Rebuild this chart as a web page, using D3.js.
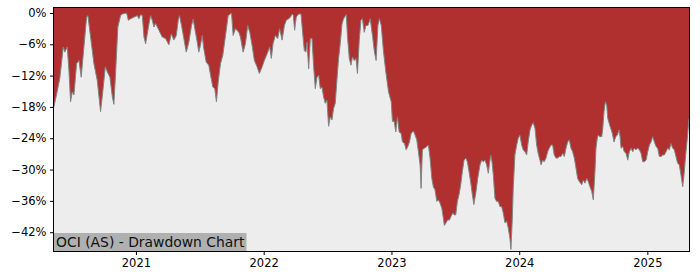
<!DOCTYPE html>
<html><head><meta charset="utf-8">
<script src="https://cdn.jsdelivr.net/npm/d3@7"></script>
<style>html,body{margin:0;padding:0;background:#fff;}svg{display:block;}</style>
</head><body>
<svg id="chart" width="700" height="280"></svg>
<script>
// Decimal years of each observation
const years = [2020.359,2020.380,2020.406,2020.433,2020.445,2020.464,2020.477,2020.490,2020.503,2020.516,2020.537,2020.555,2020.573,2020.594,2020.615,2020.625,2020.646,2020.672,2020.698,2020.724,2020.740,2020.761,2020.777,2020.797,2020.816,2020.828,2020.841,2020.859,2020.880,2020.894,2020.927,2020.941,2020.959,2020.984,
2021.011,2021.023,2021.037,2021.050,2021.063,2021.076,2021.102,2021.115,2021.128,2021.141,2021.154,2021.180,2021.206,2021.232,2021.258,2021.277,2021.297,2021.316,2021.331,2021.341,2021.357,2021.375,2021.394,2021.414,2021.435,2021.448,2021.461,2021.480,2021.492,2021.505,2021.519,2021.531,2021.550,2021.570,2021.584,2021.602,2021.617,2021.630,2021.644,2021.662,2021.680,2021.701,2021.722,2021.740,2021.748,2021.761,2021.779,2021.805,2021.818,2021.839,2021.857,2021.875,2021.891,2021.909,2021.927,2021.948,2021.966,2021.988,
2022.005,2022.027,2022.047,2022.060,2022.073,2022.091,2022.109,2022.125,2022.144,2022.162,2022.177,2022.195,2022.209,2022.222,2022.232,2022.242,2022.255,2022.273,2022.292,2022.308,2022.318,2022.330,2022.339,2022.352,2022.365,2022.378,2022.391,2022.404,2022.417,2022.430,2022.443,2022.456,2022.469,2022.482,2022.495,2022.508,2022.521,2022.534,2022.547,2022.560,2022.573,2022.586,2022.599,2022.613,2022.625,2022.646,2022.656,2022.670,2022.683,2022.695,2022.709,2022.722,2022.734,2022.748,2022.761,2022.773,2022.787,2022.800,2022.816,2022.834,2022.852,2022.867,2022.880,2022.894,2022.906,2022.920,2022.938,2022.956,2022.977,2022.998,
2023.008,2023.021,2023.034,2023.047,2023.060,2023.076,2023.086,2023.102,2023.115,2023.128,2023.141,2023.154,2023.172,2023.185,2023.198,2023.211,2023.224,2023.232,2023.242,2023.258,2023.277,2023.289,2023.302,2023.316,2023.328,2023.341,2023.355,2023.367,2023.380,2023.394,2023.406,2023.414,2023.427,2023.441,2023.453,2023.466,2023.480,2023.492,2023.503,2023.516,2023.529,2023.542,2023.555,2023.568,2023.581,2023.594,2023.607,2023.620,2023.633,2023.645,2023.662,2023.675,2023.693,2023.706,2023.719,2023.732,2023.745,2023.758,2023.766,2023.777,2023.787,2023.797,2023.810,2023.823,2023.836,2023.849,2023.862,2023.875,2023.888,2023.902,2023.914,2023.927,2023.935,2023.945,2023.953,2023.966,2023.980,2023.992,
2024.005,2024.019,2024.031,2024.045,2024.058,2024.070,2024.084,2024.097,2024.109,2024.123,2024.136,2024.148,2024.162,2024.170,2024.183,2024.195,2024.209,2024.222,2024.234,2024.248,2024.261,2024.273,2024.287,2024.300,2024.313,2024.326,2024.339,2024.352,2024.365,2024.378,2024.391,2024.404,2024.417,2024.430,2024.443,2024.456,2024.469,2024.488,2024.500,2024.513,2024.527,2024.539,2024.552,2024.566,2024.578,2024.591,2024.599,2024.609,2024.617,2024.630,2024.644,2024.652,2024.662,2024.672,2024.683,2024.691,2024.703,2024.714,2024.727,2024.740,2024.753,2024.766,2024.779,2024.787,2024.795,2024.808,2024.820,2024.834,2024.847,2024.859,2024.873,2024.886,2024.898,2024.911,2024.925,2024.938,2024.951,2024.964,2024.977,2024.990,
2025.003,2025.016,2025.029,2025.042,2025.055,2025.068,2025.081,2025.094,2025.107,2025.120,2025.133,2025.146,2025.159,2025.172,2025.185,2025.198,2025.211,2025.224,2025.237,2025.250,2025.263,2025.277,2025.287,2025.300,2025.313,2025.326];

// Drawdown in percent
const drawdown = [-18.0,-15.7,-12.5,-6.5,-7.5,-6.5,-11.0,-17.0,-15.1,-15.7,-9.7,-9.1,-12.3,-6.5,-0.8,-0.5,-4.6,-9.7,-12.9,-18.9,-15.4,-10.3,-11.3,-12.3,-16.1,-17.5,-11.6,-2.7,-0.5,-0.2,0,-1.4,-1.1,-0.8,
-0.5,-1.1,-0.3,-0.5,-4.6,-5.9,-2.1,-0.5,-1.4,-2.7,-2.0,-3.3,-4.6,-4.9,-6.1,-4.0,-5.2,-4.3,-1.4,-0.5,-2.4,-4.9,-7.5,-5.6,-2.4,-1.2,-3.0,-5.6,-7.5,-6.2,-4.3,-6.8,-9.4,-10.0,-11.9,-14.2,-14.5,-17.0,-13.2,-9.7,-8.1,-4.3,-0.5,-0.2,0,-4.3,-3.0,-3.7,-4.6,-7.5,-5.9,-2.4,-3.7,-6.2,-9.1,-10.3,-11.6,-10.3,
-9.1,-7.8,-6.5,-8.7,-5.9,-4.3,-4.9,-3.0,-5.2,-2.4,-1.4,-1.1,-0.8,-0.2,-0.5,-3.3,-0.8,-0.2,-0.2,-4.6,-7.2,-7.5,-5.6,-10.7,-4.9,-4.9,-10.3,-14.5,-12.3,-11.9,-14.5,-14.2,-16.1,-17.3,-16.7,-21.7,-19.9,-20.5,-18.3,-17.3,-12.9,-8.7,-5.9,-2.1,-1.1,-0.3,-4.6,-8.7,-10.0,-8.4,-9.1,-8.7,-11.6,-5.2,-1.4,-1.1,-3.7,-2.4,-2.4,-1.1,-4.5,-7.5,-9.1,-2.4,-1.1,-2.4,-7.5,-11.3,-15.1,-17.0,
-20.8,-20.7,-22.8,-19.9,-22.8,-23.1,-24.7,-25.0,-26.2,-25.6,-24.7,-23.1,-22.6,-23.4,-24.3,-26.6,-29.1,-33.6,-26.2,-25.9,-25.6,-25.3,-27.8,-31.7,-33.3,-33.9,-36.1,-35.8,-36.4,-37.4,-39.3,-40.7,-40.2,-39.6,-39.7,-39.0,-38.3,-38.7,-38.7,-36.1,-34.8,-32.9,-30.4,-28.2,-27.8,-28.5,-30.4,-32.4,-34.8,-36.7,-34.2,-31.7,-29.1,-28.2,-28.5,-28.2,-29.1,-30.7,-29.1,-27.2,-28.5,-31.0,-35.5,-36.1,-36.1,-37.1,-37.1,-38.3,-40.2,-39.9,-41.2,-43.1,-45.3,-39.9,-33.6,-27.2,-25.3,-24.0,
-23.4,-25.3,-26.2,-26.6,-27.2,-24.7,-22.4,-21.5,-21.0,-22.1,-25.3,-26.9,-28.2,-29.1,-28.2,-28.5,-27.8,-26.6,-25.9,-25.3,-25.3,-27.2,-27.8,-27.8,-27.5,-27.5,-26.9,-27.5,-25.9,-24.7,-24.3,-25.9,-26.6,-27.8,-29.7,-31.7,-32.3,-32.9,-32.0,-32.6,-31.7,-32.3,-33.3,-34.2,-35.8,-30.4,-25.9,-24.0,-23.4,-23.7,-23.7,-22.1,-18.9,-17.0,-17.7,-20.2,-21.2,-22.1,-23.1,-24.7,-23.7,-23.4,-22.4,-23.7,-25.9,-25.6,-26.6,-26.9,-28.2,-26.6,-25.9,-26.6,-25.9,-26.2,-25.9,-26.2,-26.9,-28.5,-28.5,-28.2,
-26.6,-25.3,-24.7,-23.7,-24.7,-25.6,-25.9,-27.5,-27.5,-27.2,-27.2,-26.6,-25.9,-26.2,-25.0,-25.9,-26.2,-27.5,-28.8,-29.1,-31.0,-33.3,-31.0,-27.2,-24.0,-20.2];

const yTicks = [0,-6,-12,-18,-24,-30,-36,-42];
const xTickYears = [2021,2022,2023,2024,2025];
const title = "OCI (AS) - Drawdown Chart";

function toDate(y){
  const yr = Math.floor(y);
  const a = Date.UTC(yr,0,1), b = Date.UTC(yr+1,0,1);
  return new Date(a + (y-yr)*(b-a));
}
const data = years.map((y,i)=>({date:toDate(y), v:drawdown[i]}));

const L=53.5, R=689.5, T=7.5, B=251.5;
const svg = d3.select("#chart");
const x = d3.scaleUtc().domain(d3.extent(data,d=>d.date)).range([L+0.3,R-0.5]);
const y = d3.scaleLinear().domain([-45.7,1.05]).range([B,T]);

svg.append("defs").append("clipPath").attr("id","clip")
  .append("rect").attr("x",L).attr("y",T).attr("width",R-L).attr("height",B-T);

svg.append("rect").attr("x",L).attr("y",T).attr("width",R-L).attr("height",B-T).attr("fill","#ededed");

const g = svg.append("g").attr("clip-path","url(#clip)");
g.append("path").datum(data)
  .attr("fill","#b03030")
  .attr("d", d3.area().x(d=>x(d.date)).y0(T).y1(d=>y(d.v)));
g.append("path").datum(data)
  .attr("fill","none").attr("stroke","#7f8585").attr("stroke-width",1)
  .attr("d", d3.line().x(d=>x(d.date)).y(d=>y(d.v)));

// title box
const tg = svg.append("g");
tg.append("rect").attr("x",L).attr("y",233).attr("width",193).attr("height",B-233).attr("fill","#b0b0b0");
tg.append("text").attr("x",56).attr("y",246.5).attr("font-family","DejaVu Sans").attr("font-size","13.9px")
  .attr("fill","#111").text(title);

// axes
const fmtPct = v => (v<0?"\u2212":"")+Math.abs(v)+"%";
const yAxis = d3.axisLeft(y).tickValues(yTicks).tickFormat(fmtPct).tickSize(3.5).tickPadding(3.5);
const xAxis = d3.axisBottom(x).tickValues(xTickYears.map(v=>new Date(Date.UTC(v,0,1)))).tickFormat(d3.utcFormat("%Y")).tickSize(3.5).tickPadding(3.5);

const ya = svg.append("g").attr("transform",`translate(${L},0)`).call(yAxis);
const xa = svg.append("g").attr("transform",`translate(0,${B})`).call(xAxis);
[ya,xa].forEach(a=>{
  a.select(".domain").remove();
  a.selectAll("text").attr("font-family","DejaVu Sans").attr("font-size","11.5px").attr("fill","#000");
  a.selectAll("line").attr("stroke","#000");
});

svg.append("rect").attr("x",L).attr("y",T).attr("width",R-L).attr("height",B-T)
  .attr("fill","none").attr("stroke","#000").attr("stroke-width",1);
</script>
</body></html>
